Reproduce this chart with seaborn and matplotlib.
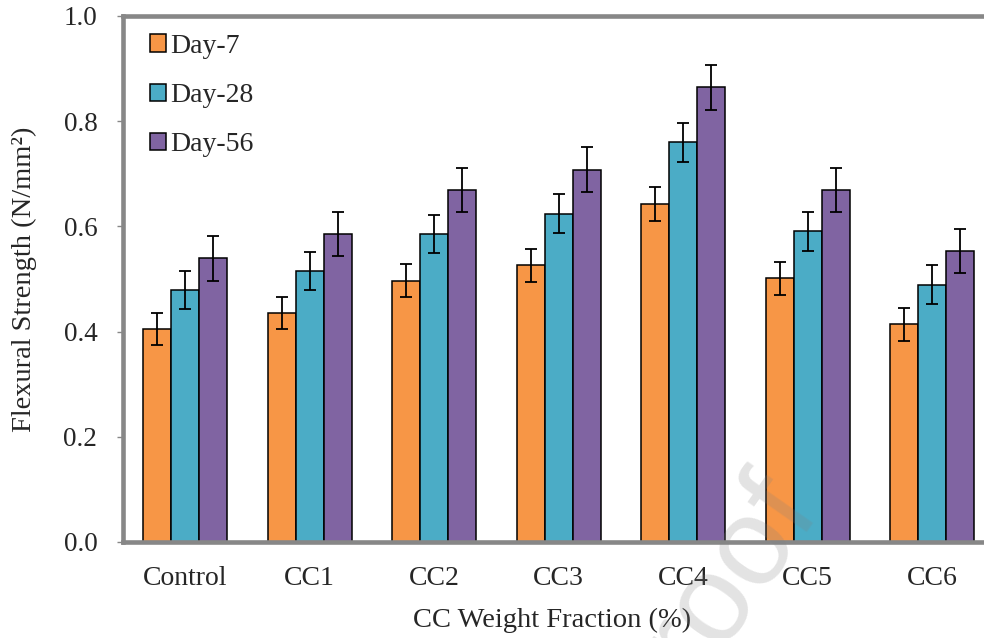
import matplotlib
matplotlib.use("Agg")
import matplotlib.pyplot as plt
import matplotlib.patches as mpatches
import numpy as np
import pandas as pd
import seaborn as sns

# Flexural strength of mixes by curing age
mixes = ["Control", "CC1", "CC2", "CC3", "CC4", "CC5", "CC6"]
ages = ["Day-7", "Day-28", "Day-56"]
day7 = [0.405, 0.435, 0.497, 0.526, 0.643, 0.501, 0.414]
day28 = [0.479, 0.515, 0.586, 0.624, 0.760, 0.591, 0.489]
day56 = [0.539, 0.586, 0.669, 0.708, 0.864, 0.669, 0.553]
err7 = [0.031, 0.031, 0.031, 0.031, 0.032, 0.031, 0.031]
err28 = [0.037, 0.036, 0.036, 0.037, 0.037, 0.037, 0.037]
err56 = [0.043, 0.042, 0.042, 0.042, 0.043, 0.042, 0.042]
yticks = [0.0, 0.2, 0.4, 0.6, 0.8, 1.0]
colors = ["#F79646", "#4BACC6", "#8064A2"]

values = [day7, day28, day56]
errors = [err7, err28, err56]

df = pd.DataFrame({
    "Mix": mixes * len(ages),
    "Age": [a for a in ages for _ in mixes],
    "Strength": day7 + day28 + day56,
})

sns.set_style("white")
plt.rcParams["font.family"] = ["Liberation Serif", "DejaVu Serif"]

fig = plt.figure(figsize=(9.84, 6.38), dpi=100)
ax = fig.add_axes([0.125, 0.1505, 0.8857, 0.8245])

sns.barplot(data=df, x="Mix", y="Strength", hue="Age", order=mixes,
            hue_order=ages, palette=colors, width=0.675, gap=0,
            edgecolor="black", linewidth=1.1, errorbar=None,
            saturation=1, legend=False, ax=ax)

# error bars centred on each bar
for cont, vals, errs in zip(ax.containers, values, errors):
    xs = [b.get_x() + b.get_width() / 2 for b in cont]
    ax.errorbar(xs, vals, yerr=errs, fmt="none", ecolor="black",
                elinewidth=1.3, capsize=4.5, capthick=1.3, zorder=5)

ax.set_xlim(-0.5, len(mixes) - 0.5)
ax.set_ylim(0, 1.0)
ax.set_yticks(yticks)
ax.set_yticklabels([f"{t:.1f}" for t in yticks])

for side in ["left", "bottom", "top"]:
    ax.spines[side].set_color("#878787")
    ax.spines[side].set_linewidth(3.3)
    ax.spines[side].set_visible(True)
ax.spines["right"].set_visible(False)

ax.tick_params(axis="y", direction="out", length=4.5, width=1.0,
               color="#878787", labelsize=19.5, pad=14, left=True)
ax.tick_params(axis="x", length=0, labelsize=20, pad=17.5)

ax.set_xlabel("CC Weight Fraction (%)", fontsize=20.5)
ax.set_ylabel("Flexural Strength (N/mm²)", fontsize=20.5)
ax.xaxis.set_label_coords(0.492, -0.126)
ax.yaxis.set_label_coords(-0.099, 0.5)

handles = [mpatches.Patch(facecolor=c, edgecolor="black", linewidth=1.1)
           for c in colors]
ax.legend(handles, ages, loc="upper left", bbox_to_anchor=(0.031, 0.966),
          frameon=False, fontsize=20, borderpad=0, borderaxespad=0,
          handlelength=0.58, handleheight=0.58, handletextpad=0.15,
          labelspacing=0.87)

# publisher watermark
fig.text(0.835, 0.1975, "Journal Pre-proof", rotation=55,
         rotation_mode="anchor", ha="right", va="baseline", fontsize=90,
         family="Liberation Sans", color="grey", alpha=0.22, zorder=10)

fig.savefig("out.png", dpi=100)
